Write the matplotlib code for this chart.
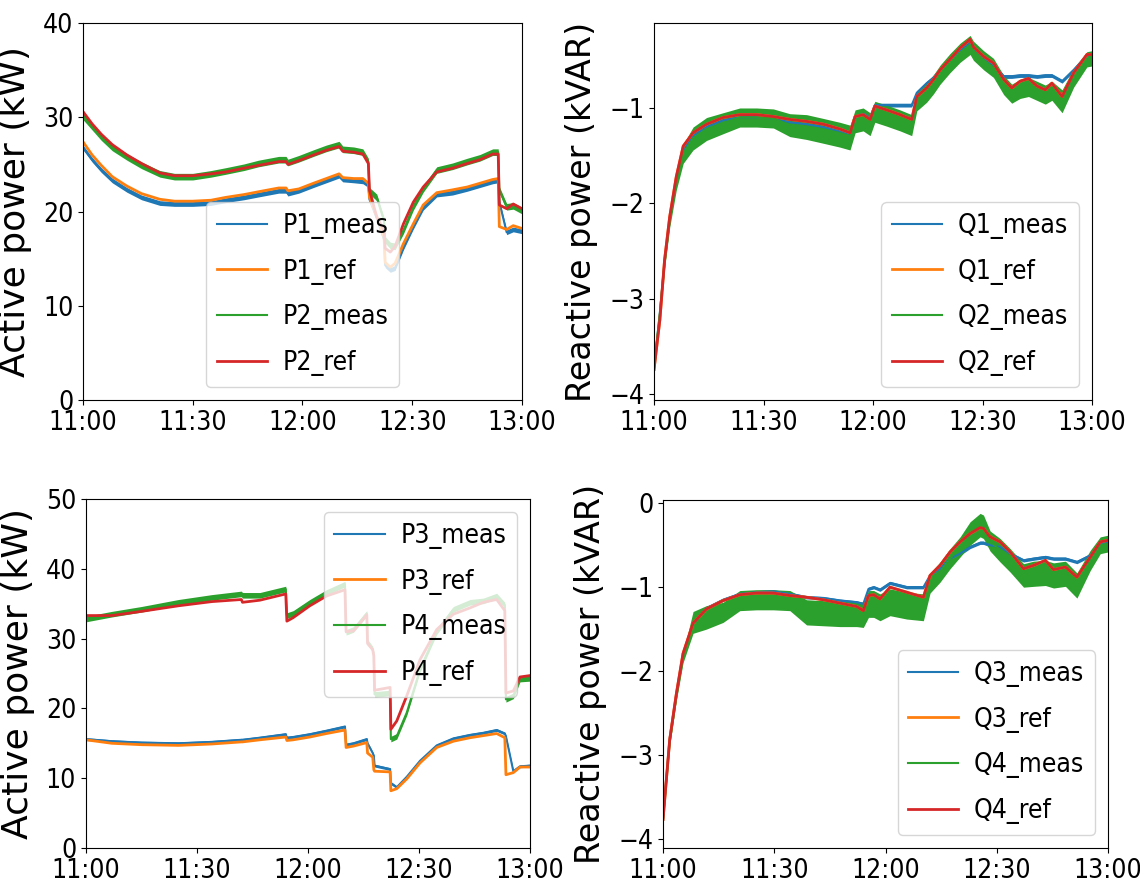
import numpy as np
import matplotlib
matplotlib.use("Agg")
import matplotlib.pyplot as plt
from matplotlib.font_manager import FontProperties

# time in minutes after 11:00
tick_pos = [0, 30, 60, 90, 120]
tick_labels = ["11:00", "11:30", "12:00", "12:30", "13:00"]

# ---- top left: P1 / P2 (kW) ----
t_p12 = [0, 2.5, 5, 8, 12, 16, 21, 25, 30, 35, 39, 44, 48, 53.5, 55.5, 56, 59, 63,
         66.5, 70, 71, 74, 76.5, 78, 78.3, 80.3, 82.3, 82.6, 84, 85.3, 87.6, 90.3,
         93, 96.7, 101, 105, 108.5, 112, 113.5, 113.8, 115.8, 117.6, 120]
p1_meas = [26.8, 25.5, 24.4, 23.3, 22.3, 21.5, 20.9, 20.8, 20.8, 20.9, 21.2, 21.5, 21.8,
           22.2, 22.2, 21.9, 22.2, 22.8, 23.3, 23.8, 23.4, 23.3, 23.2, 22.8, 21.3, 19.3,
           17.0, 14.3, 13.8, 14.0, 16.2, 18.4, 20.4, 21.8, 22.0, 22.4, 22.8, 23.2, 23.3,
           21.0, 17.8, 18.1, 17.9]
p1_ref = [27.4, 26.0, 24.9, 23.7, 22.7, 21.9, 21.3, 21.1, 21.1, 21.2, 21.5, 21.8, 22.1,
          22.5, 22.5, 22.2, 22.4, 23.0, 23.5, 24.0, 23.6, 23.5, 23.5, 23.0, 21.5, 19.5,
          17.3, 14.6, 14.1, 14.5, 16.6, 18.7, 20.7, 22.0, 22.3, 22.6, 23.0, 23.4, 23.5,
          18.4, 18.1, 18.5, 18.2]
p2_meas = [30.1, 29.0, 27.9, 26.8, 25.8, 24.9, 24.0, 23.7, 23.7, 24.0, 24.3, 24.7, 25.1,
           25.5, 25.5, 25.2, 25.6, 26.2, 26.7, 27.1, 26.6, 26.5, 26.3, 25.3, 22.2, 21.5,
           19.0, 17.0, 16.4, 16.3, 18.0, 20.5, 22.4, 24.4, 24.8, 25.3, 25.7, 26.3, 26.3,
           22.3, 20.5, 20.6, 20.1]
p2_ref = [30.6, 29.3, 28.2, 27.1, 26.0, 25.1, 24.1, 23.8, 23.8, 24.0, 24.2, 24.6, 24.9,
          25.3, 25.3, 25.0, 25.4, 26.0, 26.5, 26.9, 26.4, 26.3, 26.1, 25.1, 22.3, 19.4,
          18.0, 16.1, 15.7, 16.3, 18.7, 21.0, 22.6, 24.2, 24.6, 25.1, 25.5, 26.1, 26.1,
          20.7, 20.3, 20.8, 20.3]
p1_noise = 0.25
p2_noise = 0.35

# ---- top right: Q1 / Q2 (kVAR) ----
t_q12 = [0, 1.6, 2.9, 4.3, 6.1, 8.0, 10.7, 14.4, 18.9, 23.5, 28.1, 32.7, 37.2, 41.8, 46.4,
         50.9, 53.7, 55.1, 57.3, 59.2, 60.5, 63.7, 67.4, 70.6, 72.0, 74.7, 76.6, 78.4,
         81.1, 83.9, 86.6, 87.5, 90.3, 93.0, 95.8, 98.0, 100.3, 102.6, 104.9, 107.2,
         109.0, 111.8, 115.0, 118.6, 120]
q1_meas = [-3.72, -3.15, -2.60, -2.16, -1.75, -1.44, -1.29, -1.20, -1.13, -1.10, -1.10,
           -1.11, -1.15, -1.17, -1.20, -1.24, -1.27, -1.10, -1.06, -1.10, -0.97, -0.97,
           -0.97, -0.97, -0.84, -0.74, -0.68, -0.60, -0.50, -0.40, -0.32, -0.38, -0.48,
           -0.55, -0.67, -0.67, -0.66, -0.66, -0.67, -0.66, -0.66, -0.72, -0.60, -0.45, -0.44]
q1_ref = [-3.74, -3.22, -2.59, -2.14, -1.72, -1.40, -1.26, -1.17, -1.10, -1.07, -1.07,
          -1.09, -1.12, -1.14, -1.17, -1.22, -1.26, -1.09, -1.07, -1.12, -0.98, -1.02,
          -1.07, -1.12, -0.88, -0.79, -0.70, -0.60, -0.49, -0.37, -0.28, -0.36, -0.46,
          -0.53, -0.70, -0.79, -0.72, -0.69, -0.77, -0.81, -0.74, -0.88, -0.63, -0.44, -0.44]
q2_meas = [-3.72, -3.15, -2.62, -2.18, -1.78, -1.48, -1.32, -1.22, -1.16, -1.10, -1.10,
           -1.11, -1.18, -1.20, -1.24, -1.28, -1.31, -1.14, -1.12, -1.17, -1.04, -1.08,
           -1.13, -1.18, -0.93, -0.84, -0.75, -0.65, -0.53, -0.42, -0.34, -0.40, -0.50,
           -0.58, -0.76, -0.85, -0.80, -0.78, -0.82, -0.86, -0.82, -0.93, -0.68, -0.49, -0.48]
q2_noise = [0.05, 0.06, 0.06, 0.07, 0.08, 0.10, 0.12, 0.12, 0.11, 0.10, 0.10, 0.10, 0.12,
            0.13, 0.13, 0.13, 0.13, 0.12, 0.12, 0.12, 0.11, 0.11, 0.11, 0.11, 0.10, 0.10,
            0.10, 0.10, 0.10, 0.10, 0.10, 0.10, 0.10, 0.10, 0.10, 0.10, 0.10, 0.10, 0.10,
            0.10, 0.10, 0.12, 0.10, 0.08, 0.08]
q2_ref = q1_ref

# ---- bottom left: P3 / P4 (kW) ----
t_p34 = [0, 7, 15, 25, 34, 42, 42.3, 47, 54, 54.3, 56, 60.5, 65, 70, 70.3, 72.3, 75.9,
         76.1, 77.5, 77.8, 78.0, 82.2, 82.4, 84, 86.7, 90.3, 94.8, 99.3, 103.8, 107.4,
         111, 113.2, 113.5, 115.5, 117.3, 120]
p3_meas = [15.6, 15.3, 15.1, 15.0, 15.2, 15.5, 15.5, 15.8, 16.3, 15.8, 15.9, 16.3, 16.8,
           17.4, 14.8, 15.0, 15.6, 15.0, 13.6, 13.2, 11.8, 11.3, 9.3, 8.7, 10.2, 12.5,
           14.7, 15.7, 16.2, 16.5, 16.9, 16.4, 16.0, 11.0, 11.7, 11.8]
p3_ref = [15.5, 15.0, 14.8, 14.7, 14.9, 15.2, 15.2, 15.5, 15.9, 15.4, 15.5, 15.9, 16.4,
          16.9, 14.4, 14.6, 15.1, 13.6, 13.0, 11.2, 11.0, 10.9, 8.2, 8.5, 9.9, 12.2,
          14.4, 15.3, 15.8, 16.1, 16.4, 15.8, 10.5, 10.8, 11.6, 11.6]
p4_meas = [32.8, 33.5, 34.2, 35.2, 35.9, 36.4, 36.2, 36.2, 37.1, 33.3, 33.6, 35.2, 36.6,
           37.8, 30.9, 31.3, 33.6, 29.5, 28.5, 27.6, 22.0, 22.2, 15.6, 16.0, 19.4, 25.6,
           31.0, 34.2, 35.2, 35.4, 36.1, 34.8, 21.3, 21.8, 24.2, 24.3]
p4_ref = [33.3, 33.3, 33.9, 34.7, 35.3, 35.6, 35.2, 35.5, 36.4, 32.5, 33.0, 34.7, 36.1,
          37.0, 31.0, 31.1, 33.4, 29.3, 28.4, 27.5, 22.6, 23.0, 17.0, 18.2, 21.8, 27.0,
          31.3, 33.5, 34.4, 35.2, 35.6, 34.0, 22.2, 22.5, 24.5, 24.7]
p3_noise = 0.2
p4_noise = 0.4

# ---- bottom right: Q3 / Q4 (kVAR) ----
t_q34 = [0, 1.8, 3.6, 5.4, 8.1, 11.7, 16.2, 20.7, 25.2, 29.7, 34.2, 38.7, 43.2, 47.7,
         52.2, 54.0, 55.4, 56.8, 58.5, 61.2, 65.7, 70.2, 72.0, 74.7, 77.4, 80.1, 82.8,
         85.5, 86.4, 88.2, 90.9, 93.6, 97.2, 99.9, 103.1, 105.3, 108.5, 111.6, 115.2,
         117.9, 120]
q3_meas = [-3.75, -2.80, -2.27, -1.80, -1.43, -1.25, -1.15, -1.08, -1.06, -1.05, -1.08,
           -1.12, -1.13, -1.16, -1.18, -1.20, -1.02, -1.00, -1.03, -0.95, -1.00, -1.00,
           -0.86, -0.78, -0.66, -0.60, -0.52, -0.47, -0.47, -0.50, -0.52, -0.60, -0.68,
           -0.66, -0.64, -0.66, -0.66, -0.70, -0.62, -0.48, -0.46]
q4_ref = [-3.77, -2.82, -2.27, -1.79, -1.43, -1.26, -1.16, -1.09, -1.07, -1.07, -1.10,
          -1.12, -1.15, -1.19, -1.23, -1.28, -1.10, -1.09, -1.14, -1.00, -1.06, -1.12,
          -0.86, -0.74, -0.58, -0.46, -0.36, -0.29, -0.30, -0.40, -0.46, -0.58, -0.78,
          -0.74, -0.68, -0.79, -0.76, -0.88, -0.64, -0.46, -0.44]
q3_ref = q4_ref
q4_meas = [-3.77, -2.84, -2.30, -1.84, -1.42, -1.36, -1.30, -1.16, -1.15, -1.15, -1.16,
           -1.30, -1.31, -1.32, -1.32, -1.33, -1.20, -1.20, -1.24, -1.18, -1.22, -1.24,
           -0.95, -0.82, -0.66, -0.52, -0.36, -0.26, -0.28, -0.45, -0.56, -0.68, -0.86,
           -0.84, -0.83, -0.86, -0.84, -0.98, -0.68, -0.50, -0.48]
q4_noise = [0.04, 0.05, 0.05, 0.06, 0.13, 0.14, 0.12, 0.12, 0.12, 0.12, 0.12, 0.15, 0.15,
            0.15, 0.15, 0.15, 0.16, 0.16, 0.16, 0.16, 0.16, 0.16, 0.12, 0.12, 0.12, 0.12,
            0.14, 0.14, 0.14, 0.12, 0.14, 0.14, 0.14, 0.15, 0.15, 0.15, 0.15, 0.15, 0.12,
            0.10, 0.10]

C_BLUE, C_ORANGE, C_GREEN, C_RED = '#1f77b4', '#ff7f0e', '#2ca02c', '#d62728'

# the source picture is squeezed sideways, so use a condensed face for ticks/legend
narrow = dict(family='DejaVu Sans', stretch='condensed')


def draw_meas(ax, t, y, noise, color, label):
    y = np.asarray(y)
    ax.fill_between(t, y - noise, y + noise, color=color, linewidth=0)
    ax.plot(t, y, color=color, linewidth=1.5, label=label)


def draw_ref(ax, t, y, color, label):
    ax.plot(t, y, color=color, linewidth=2, label=label)


fig = plt.figure(figsize=(11.4, 8.86), dpi=100)
ax1 = fig.add_axes([0.0728, 0.5485, 0.3851, 0.4255])
ax2 = fig.add_axes([0.5737, 0.5485, 0.3842, 0.4255])
ax3 = fig.add_axes([0.0754, 0.0429, 0.3895, 0.3939])
ax4 = fig.add_axes([0.5816, 0.0429, 0.3904, 0.3928])

draw_meas(ax1, t_p12, p1_meas, p1_noise, C_BLUE, 'P1_meas')
draw_ref(ax1, t_p12, p1_ref, C_ORANGE, 'P1_ref')
draw_meas(ax1, t_p12, p2_meas, p2_noise, C_GREEN, 'P2_meas')
draw_ref(ax1, t_p12, p2_ref, C_RED, 'P2_ref')

draw_meas(ax2, t_q12, q1_meas, 0.02, C_BLUE, 'Q1_meas')
draw_ref(ax2, t_q12, q1_ref, C_ORANGE, 'Q1_ref')
draw_meas(ax2, t_q12, q2_meas, np.asarray(q2_noise), C_GREEN, 'Q2_meas')
draw_ref(ax2, t_q12, q2_ref, C_RED, 'Q2_ref')

draw_meas(ax3, t_p34, p3_meas, p3_noise, C_BLUE, 'P3_meas')
draw_ref(ax3, t_p34, p3_ref, C_ORANGE, 'P3_ref')
draw_meas(ax3, t_p34, p4_meas, p4_noise, C_GREEN, 'P4_meas')
draw_ref(ax3, t_p34, p4_ref, C_RED, 'P4_ref')

draw_meas(ax4, t_q34, q3_meas, 0.02, C_BLUE, 'Q3_meas')
draw_ref(ax4, t_q34, q3_ref, C_ORANGE, 'Q3_ref')
draw_meas(ax4, t_q34, q4_meas, np.asarray(q4_noise), C_GREEN, 'Q4_meas')
draw_ref(ax4, t_q34, q4_ref, C_RED, 'Q4_ref')

ax1.set_ylim(0, 40)
ax1.set_yticks([0, 10, 20, 30, 40])
ax3.set_ylim(0, 50)
ax3.set_yticks([0, 10, 20, 30, 40, 50])
ax2.set_ylim(-4.06, -0.11)
ax2.set_yticks([-4, -3, -2, -1])
ax4.set_ylim(-4.11, 0.04)
ax4.set_yticks([-4, -3, -2, -1, 0])

for ax in (ax1, ax3):
    ax.set_ylabel('Active power (kW)', fontsize=26, labelpad=8)
for ax in (ax2, ax4):
    ax.set_ylabel('Reactive power (kVAR)', fontsize=24, labelpad=8)

for ax in (ax1, ax2, ax3, ax4):
    ax.set_xlim(0, 120)
    ax.set_xticks(tick_pos)
    ax.set_xticklabels(tick_labels)
    for lab in ax.get_xticklabels() + ax.get_yticklabels():
        lab.set_fontproperties(FontProperties(size=19, **narrow))

leg_font = FontProperties(size=19, **narrow)
leg_kw = dict(prop=leg_font, labelspacing=0.75, handlelength=1.9, handletextpad=0.6)
ax1.legend(loc='lower center', **leg_kw)
ax2.legend(loc='lower right', **leg_kw)
ax3.legend(loc='upper right', **leg_kw)
ax4.legend(loc='lower right', **leg_kw)

fig.savefig('out.png', dpi=100)
